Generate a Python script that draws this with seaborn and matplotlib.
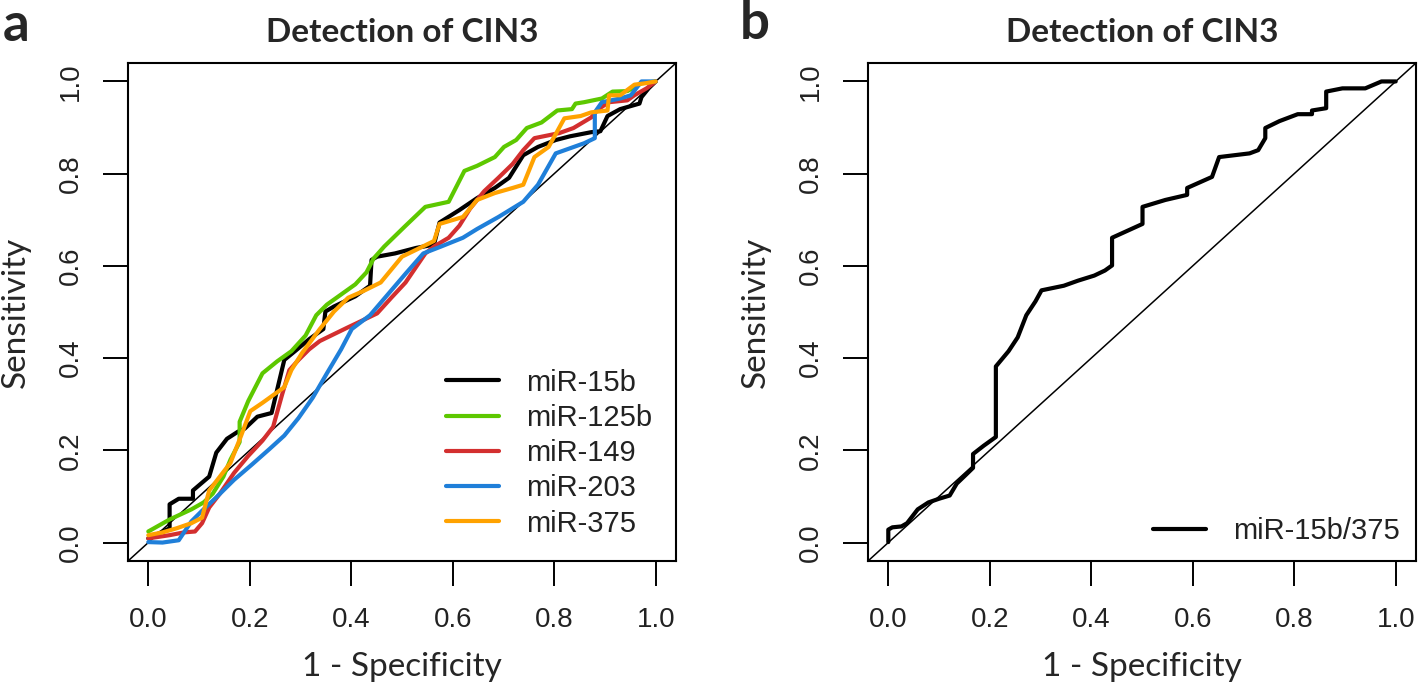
import numpy as np
import pandas as pd
import seaborn as sns
import matplotlib.pyplot as plt
from matplotlib.lines import Line2D

# ROC curves (1 - specificity, sensitivity)
markers = ["miR-15b", "miR-125b", "miR-149", "miR-203", "miR-375"]
colors = ["#000000", "#5DC800", "#D32F2F", "#1F7FD9", "#FFA200"]

fpr_15b = [0, 0.042, 0.042, 0.060, 0.088, 0.088, 0.120, 0.134, 0.155, 0.176, 0.190, 0.215, 0.243,
           0.268, 0.289, 0.317, 0.345, 0.349, 0.366, 0.408, 0.437, 0.440, 0.451, 0.486, 0.528, 0.563,
           0.574, 0.613, 0.648, 0.683, 0.711, 0.739, 0.768, 0.803, 0.831, 0.873, 0.891, 0.905, 0.930,
           0.968, 0.972, 0.986, 1.0]
tpr_15b = [0.009, 0.031, 0.083, 0.095, 0.095, 0.113, 0.143, 0.195, 0.225, 0.240, 0.247, 0.273, 0.281,
           0.396, 0.415, 0.441, 0.463, 0.501, 0.512, 0.534, 0.557, 0.613, 0.620, 0.627, 0.639, 0.646,
           0.694, 0.721, 0.747, 0.769, 0.791, 0.840, 0.858, 0.873, 0.881, 0.890, 0.892, 0.925, 0.940,
           0.952, 0.966, 0.985, 1.0]

fpr_125b = [0, 0.042, 0.085, 0.109, 0.127, 0.148, 0.162, 0.180, 0.180, 0.197, 0.225, 0.254, 0.282,
            0.310, 0.331, 0.352, 0.380, 0.408, 0.430, 0.444, 0.465, 0.507, 0.546, 0.592, 0.623, 0.648,
            0.683, 0.701, 0.725, 0.746, 0.775, 0.806, 0.835, 0.842, 0.859, 0.894, 0.915, 0.944, 0.972, 1.0]
tpr_125b = [0.024, 0.050, 0.072, 0.087, 0.106, 0.143, 0.180, 0.218, 0.262, 0.307, 0.367, 0.393, 0.415,
            0.449, 0.493, 0.516, 0.538, 0.560, 0.586, 0.616, 0.642, 0.687, 0.728, 0.739, 0.806, 0.817,
            0.836, 0.858, 0.873, 0.899, 0.911, 0.937, 0.940, 0.952, 0.955, 0.963, 0.978, 0.979, 0.996, 1.0]

fpr_149 = [0, 0.042, 0.070, 0.092, 0.106, 0.120, 0.141, 0.169, 0.197, 0.225, 0.246, 0.264, 0.278,
           0.296, 0.317, 0.338, 0.366, 0.394, 0.415, 0.451, 0.479, 0.507, 0.528, 0.546, 0.563, 0.592,
           0.613, 0.634, 0.662, 0.690, 0.718, 0.739, 0.761, 0.810, 0.838, 0.873, 0.887, 0.908, 0.944,
           0.958, 0.982, 1.0]
tpr_149 = [0.009, 0.016, 0.022, 0.024, 0.042, 0.076, 0.106, 0.151, 0.188, 0.221, 0.251, 0.322, 0.374,
           0.396, 0.419, 0.437, 0.452, 0.467, 0.478, 0.497, 0.531, 0.564, 0.598, 0.627, 0.642, 0.661,
           0.687, 0.724, 0.762, 0.791, 0.821, 0.851, 0.877, 0.888, 0.899, 0.922, 0.940, 0.955, 0.959,
           0.970, 0.985, 1.0]

fpr_203 = [0, 0.028, 0.060, 0.085, 0.106, 0.134, 0.169, 0.204, 0.239, 0.268, 0.296, 0.324, 0.352,
           0.380, 0.401, 0.437, 0.472, 0.507, 0.542, 0.577, 0.620, 0.648, 0.690, 0.739, 0.768, 0.803,
           0.831, 0.859, 0.880, 0.880, 0.894, 0.930, 0.951, 0.972, 1.0]
tpr_203 = [0.001, 0.0, 0.005, 0.046, 0.069, 0.098, 0.136, 0.169, 0.203, 0.232, 0.270, 0.314, 0.367,
           0.419, 0.463, 0.493, 0.538, 0.583, 0.627, 0.642, 0.661, 0.680, 0.706, 0.739, 0.776, 0.844,
           0.855, 0.866, 0.877, 0.933, 0.955, 0.963, 0.970, 1.0, 1.0]

fpr_375 = [0, 0.028, 0.056, 0.085, 0.106, 0.120, 0.141, 0.162, 0.183, 0.201, 0.225, 0.268, 0.282,
           0.303, 0.338, 0.366, 0.394, 0.423, 0.458, 0.500, 0.528, 0.563, 0.574, 0.620, 0.648, 0.683,
           0.718, 0.739, 0.761, 0.789, 0.820, 0.852, 0.873, 0.905, 0.908, 0.930, 0.958, 0.979, 1.0]
tpr_375 = [0.016, 0.022, 0.031, 0.042, 0.054, 0.113, 0.143, 0.173, 0.232, 0.285, 0.303, 0.337, 0.374,
           0.411, 0.463, 0.501, 0.531, 0.545, 0.564, 0.620, 0.635, 0.654, 0.691, 0.706, 0.743, 0.758,
           0.769, 0.776, 0.836, 0.858, 0.920, 0.925, 0.933, 0.937, 0.970, 0.970, 0.993, 0.996, 1.0]

fpr_combo = [0, 0, 0.008, 0.026, 0.037, 0.058, 0.079, 0.100, 0.121, 0.135, 0.153, 0.167, 0.167, 0.188,
             0.212, 0.212, 0.237, 0.255, 0.272, 0.290, 0.302, 0.346, 0.374, 0.406, 0.427, 0.441, 0.441,
             0.501, 0.501, 0.546, 0.589, 0.589, 0.638, 0.652, 0.712, 0.729, 0.743, 0.743, 0.771, 0.807,
             0.835, 0.835, 0.863, 0.863, 0.895, 0.940, 0.972, 1.0]
tpr_combo = [0.001, 0.028, 0.033, 0.035, 0.042, 0.072, 0.087, 0.095, 0.102, 0.128, 0.147, 0.162, 0.192,
             0.210, 0.229, 0.382, 0.415, 0.445, 0.493, 0.523, 0.547, 0.557, 0.568, 0.579, 0.590, 0.601,
             0.661, 0.691, 0.728, 0.743, 0.754, 0.769, 0.793, 0.836, 0.844, 0.851, 0.877, 0.899, 0.914,
             0.929, 0.929, 0.937, 0.942, 0.978, 0.985, 0.985, 1.0, 1.0]

ticks = [0.0, 0.2, 0.4, 0.6, 0.8, 1.0]
tick_labels = ["0.0", "0.2", "0.4", "0.6", "0.8", "1.0"]

curves = {
    "miR-15b": (fpr_15b, tpr_15b),
    "miR-125b": (fpr_125b, tpr_125b),
    "miR-149": (fpr_149, tpr_149),
    "miR-203": (fpr_203, tpr_203),
    "miR-375": (fpr_375, tpr_375),
}
rows = []
for name, (fx, ty) in curves.items():
    for a, b in zip(fx, ty):
        rows.append({"marker": name, "fpr": a, "tpr": b})
df = pd.DataFrame(rows)
df_combo = pd.DataFrame({"marker": "miR-15b/375", "fpr": fpr_combo, "tpr": tpr_combo})

sns.set_theme(style="white")
plt.rcParams["font.family"] = ["Liberation Sans", "DejaVu Sans"]

fig = plt.figure(figsize=(14.18, 6.85), dpi=100)
ax_a = fig.add_axes([128 / 1418, 1 - 561 / 685, 548 / 1418, 498 / 685])
ax_b = fig.add_axes([868 / 1418, 1 - 561 / 685, 548 / 1418, 498 / 685])

sns.lineplot(data=df, x="fpr", y="tpr", hue="marker", hue_order=markers,
             palette=colors, sort=False, estimator=None, lw=3.0, ax=ax_a, legend=False)
sns.lineplot(data=df_combo, x="fpr", y="tpr", color="black", sort=False,
             estimator=None, lw=3.0, ax=ax_b, legend=False)

for ax in (ax_a, ax_b):
    ax.plot([-0.04, 1.04], [-0.04, 1.04], color="black", lw=1.1, zorder=1)
    ax.set_xlim(-0.04, 1.04)
    ax.set_ylim(-0.04, 1.04)
    ax.set_xticks(ticks)
    ax.set_xticklabels(tick_labels)
    ax.set_yticks(ticks)
    ax.set_yticklabels(tick_labels, rotation=90, va="center")
    ax.tick_params(axis="both", direction="out", length=18, width=1.4,
                   labelsize=20, pad=14, color="black", labelcolor="#222222",
                   bottom=True, left=True)
    ax.tick_params(axis="x", pad=15)
    for sp in ax.spines.values():
        sp.set_visible(True)
        sp.set_color("black")
        sp.set_linewidth(1.5)
    ax.set_xlabel("1 - Specificity", fontsize=24, family="Lato", labelpad=14)
    ax.set_ylabel("Sensitivity", fontsize=24, family="Lato", labelpad=19)
    ax.set_title("Detection of CIN3", fontsize=24, family="Lato",
                 fontweight="bold", pad=15)
    ax.grid(False)

fig.text(3 / 1418, 1 - 41 / 685, "a", fontsize=38, fontweight="bold",
         family="Lato", va="baseline")
fig.text(740 / 1418, 1 - 39 / 685, "b", fontsize=38, fontweight="bold",
         family="Lato", va="baseline")

handles_a = [Line2D([0], [0], color=c, lw=3.0) for c in colors]
ax_a.legend(handles_a, markers, loc="lower right", frameon=False, fontsize=21,
            handlelength=1.8, handletextpad=0.95, labelspacing=0.25,
            borderaxespad=0.4, labelcolor="#222222")
ax_b.legend([Line2D([0], [0], color="black", lw=3.0)], ["miR-15b/375"],
            loc="lower right", frameon=False, fontsize=21, handlelength=1.8,
            handletextpad=0.95, borderaxespad=0.15, labelcolor="#222222")

fig.savefig("out.png", dpi=100, facecolor="white")
